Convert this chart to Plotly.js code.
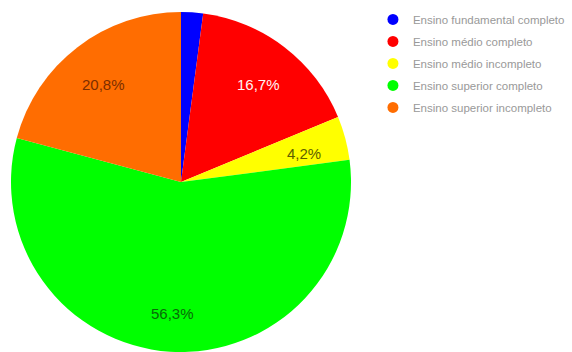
<!DOCTYPE html>
<html><head><meta charset="utf-8">
<script src="https://cdn.plot.ly/plotly-3.0.1.min.js"></script>
<style>html,body{margin:0;padding:0;background:#fff}#c{width:572px;height:352px}</style>
</head><body><div id="c"></div>
<script>
const categories = ['Ensino fundamental completo','Ensino médio completo','Ensino médio incompleto','Ensino superior completo','Ensino superior incompleto'];
const counts = [1, 8, 2, 27, 10];
const colors = ['#0000ff','#ff0000','#ffff00','#00ff00','#ff6d01'];
const labelColors = ['#ffffff','#fff4f4','#5e5e00','#086b08','#7c2e00'];
const showLabel = [false, true, true, true, true];

const W = 572, H = 352, M = {l:10, r:220, t:12, b:0};
const pw = W - M.l - M.r, ph = H - M.t - M.b;
const R = Math.min(pw, ph) / 2;
const labelR = 0.75 * R;
const total = counts.reduce((a,b)=>a+b,0);
let cum = 0;
const annotations = [];
counts.forEach((v,i)=>{
  const mid = (cum + v/2) / total * 2 * Math.PI;
  cum += v;
  if (!showLabel[i]) return;
  const pct = (v/total*100).toFixed(1).replace('.', ',') + '%';
  annotations.push({
    xref:'paper', yref:'paper', showarrow:false,
    x: 0.5 + labelR*Math.sin(mid)/pw, y: 0.5 + labelR*Math.cos(mid)/ph,
    xanchor:'center', yanchor:'middle', yshift:-4, text:pct,
    font:{family:'Liberation Sans, Arial, sans-serif', size:15, color:labelColors[i]}
  });
});

const pie = {
  type:'pie', labels:categories, values:counts, sort:false, direction:'clockwise', rotation:0,
  marker:{colors:colors, line:{width:0}}, textinfo:'none',
  domain:{x:[0,1], y:[0,1]}, showlegend:false, hoverinfo:'label+percent'
};
const legendTraces = categories.map((c,i)=>({
  type:'scatter', mode:'markers', x:[null], y:[null], name:c, legendgroup:'g'+i,
  marker:{symbol:'circle', size:11, color:colors[i]}, showlegend:true
}));
Plotly.newPlot('c',[pie].concat(legendTraces),{
  width:W, height:H, separators:',.',
  margin:M, paper_bgcolor:'#fff', plot_bgcolor:'#fff',
  xaxis:{visible:false}, yaxis:{visible:false},
  annotations:annotations,
  legend:{xref:'container', yref:'container', x:0.652, y:0.986, xanchor:'left', yanchor:'top',
    font:{family:'Liberation Sans, Arial, sans-serif', size:11.5, color:'#999999'}, itemwidth:30, tracegroupgap:3},
  showlegend:true
},{staticPlot:true});
</script></body></html>
